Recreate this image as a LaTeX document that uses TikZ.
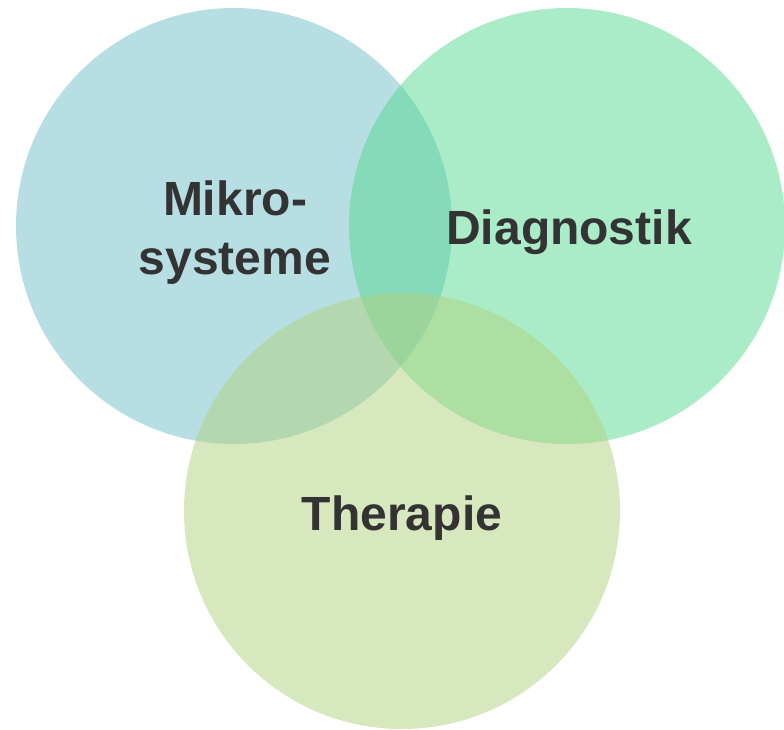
\documentclass[tikz,border=0pt]{standalone}
\usepackage{fontspec}
\setmainfont{Liberation Sans}
\definecolor{cblue}{RGB}{109,189,199}
\definecolor{cgreen}{RGB}{85,215,145}
\definecolor{cyellow}{RGB}{177,209,125}
\definecolor{ctext}{RGB}{51,51,51}
\tikzset{
  venn/.style={circle, minimum size=436pt, inner sep=0pt, draw=none, fill opacity=0.5},
  lbl/.style={anchor=base, inner sep=0pt, text=ctext, font=\fontsize{48}{58}\selectfont\bfseries}
}
\begin{document}
\begin{tikzpicture}[x=1pt,y=-1pt]
\useasboundingbox (0,0) rectangle (784,729);
\node[venn, fill=cblue] (mikro) at (234,226) {};
\node[venn, fill=cgreen] (diag) at (567,226) {};
\node[venn, fill=cyellow] (ther) at (402,511) {};
\node[lbl] (l1) at (235,215) {Mikro-};
\node[lbl] (l2) at (235,274) {systeme};
\node[lbl] (l3) at (569,244) {Diagnostik};
\node[lbl] (l4) at (402,530) {Therapie};
\end{tikzpicture}
\end{document}
